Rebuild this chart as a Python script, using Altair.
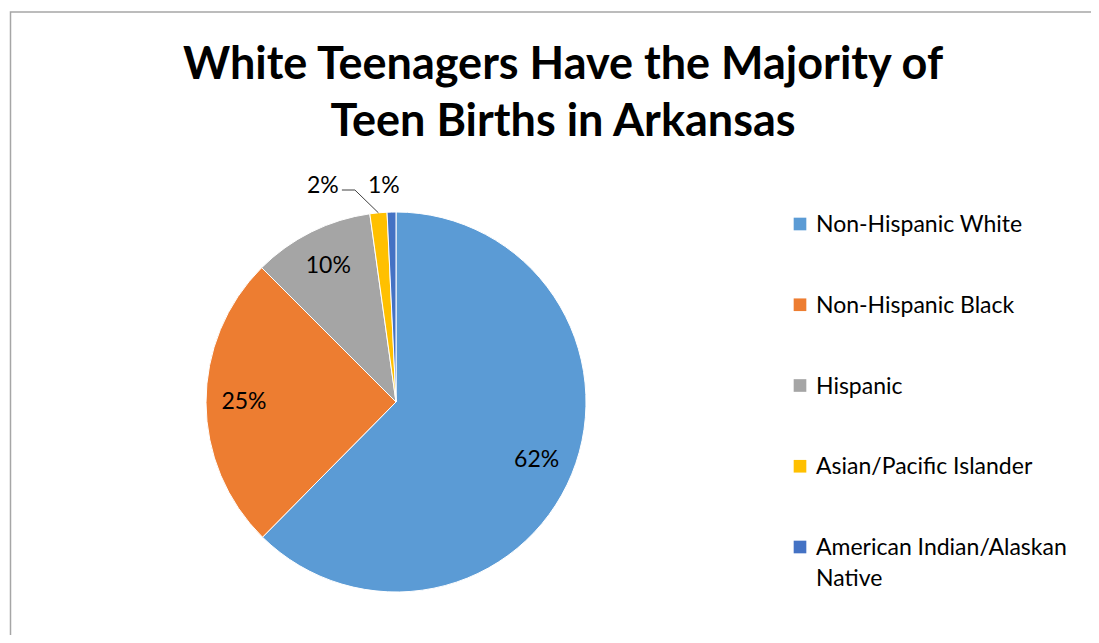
import math
import altair as alt
import pandas as pd

# ---- data ----
categories = ["Non-Hispanic White", "Non-Hispanic Black", "Hispanic",
              "Asian/Pacific Islander", "American Indian/Alaskan Native"]
shares = [62.4, 25.1, 10.3, 1.45, 0.75]
labels = ["62%", "25%", "10%", "2%", "1%"]
colors = ["#5B9BD5", "#ED7D31", "#A5A5A5", "#FFC000", "#4472C4"]
title_lines = ["White Teenagers Have the Majority of", "Teen Births in Arkansas"]
legend_text = ["Non-Hispanic White", "Non-Hispanic Black", "Hispanic",
               "Asian/Pacific Islander", "American Indian/Alaskan\nNative"]

FONT = "Lato"
W, H = 776, 466          # view: pie sits at its centre
PAD = {"left": 0, "top": 161, "right": 307, "bottom": 0}
R = 190
CX, CY = W / 2, H / 2

df = pd.DataFrame({"cat": categories, "share": shares, "label": labels,
                   "order": list(range(len(categories)))})

color_scale = alt.Scale(domain=categories, range=colors)

pie = alt.Chart(df).mark_arc(outerRadius=R, stroke="white", strokeWidth=1).encode(
    theta=alt.Theta("share:Q", stack=True),
    color=alt.Color("cat:N", scale=color_scale, legend=None),
    order=alt.Order("order:Q"),
)

inner = alt.Chart(df).mark_text(
    radius=152, fontSize=23, font=FONT, color="#000000"
).encode(
    theta=alt.Theta("share:Q", stack=True),
    text=alt.condition("datum.share > 5", "label:N", alt.value("")),
    order=alt.Order("order:Q"),
)

# outside labels for small slices, positioned from the slice angles
cum = 0.0
mids = []
for s in shares:
    mids.append((cum + s / 2) / 100 * 2 * math.pi)
    cum += s
a_mid = mids[3]
ai_mid = mids[4]
edge_x = CX + R * math.sin(a_mid)
edge_y = CY - R * math.cos(a_mid)
lab2_x = CX + 228 * math.sin(a_mid) - 52
lab2_y = CY - 216
lab1_x = CX + 216 * math.sin(ai_mid) - 7
lab1_y = CY - 216

out_df = pd.DataFrame({"x": [lab2_x, lab1_x], "y": [lab2_y, lab1_y],
                       "label": [labels[3], labels[4]]})
outer = alt.Chart(out_df).mark_text(fontSize=23, font=FONT, color="#000000").encode(
    x=alt.X("x:Q", scale=None), y=alt.Y("y:Q", scale=None), text="label:N")

leader_df = pd.DataFrame({
    "x": [lab2_x + 19, lab2_x + 32, edge_x],
    "y": [lab2_y + 4, lab2_y + 4, edge_y],
    "i": [0, 1, 2]})
leader = alt.Chart(leader_df).mark_line(color="#404040", strokeWidth=1).encode(
    x=alt.X("x:Q", scale=None), y=alt.Y("y:Q", scale=None), order="i:Q")

# title
title_df = pd.DataFrame({"t": title_lines, "y": [-104, -47]})
title = alt.Chart(title_df).mark_text(
    fontSize=45, fontWeight="bold", font=FONT, color="#000000", align="center"
).encode(x=alt.value(555), y=alt.Y("y:Q", scale=None), text="t:N")

# legend built from categories
leg_df = pd.DataFrame({"cat": categories, "txt": legend_text,
                       "idx": list(range(len(categories)))})
leg_y = alt.Y("idx:Q", scale=alt.Scale(domain=[0, 4], range=[55, 378]), axis=None)
leg_sq = alt.Chart(leg_df).mark_square(size=160, opacity=1).encode(
    x=alt.value(792), y=leg_y,
    color=alt.Color("cat:N", scale=color_scale, legend=None))
leg_tx = alt.Chart(leg_df).mark_text(
    align="left", baseline="alphabetic", dy=8, fontSize=23, font=FONT,
    color="#000000", lineBreak="\n", lineHeight=31
).encode(x=alt.value(808), y=leg_y, text="txt:N")

# chart border (left and top edges)
border_df = pd.DataFrame({"x": [2.5, 2.5, 1083], "y": [474, -157, -157], "i": [0, 1, 2]})
border = alt.Chart(border_df).mark_line(color="#A6A6A6", strokeWidth=1.5).encode(
    x=alt.X("x:Q", scale=None), y=alt.Y("y:Q", scale=None), order="i:Q")

chart = alt.layer(border, pie, inner, leader, outer, title, leg_sq, leg_tx).resolve_scale(
    y="independent", x="independent"
).properties(
    width=W, height=H, padding=PAD, autosize=alt.AutoSizeParams(type="none")
).configure_view(stroke=None)

chart.save("out.html", embed_options={"renderer": "svg", "actions": False})
